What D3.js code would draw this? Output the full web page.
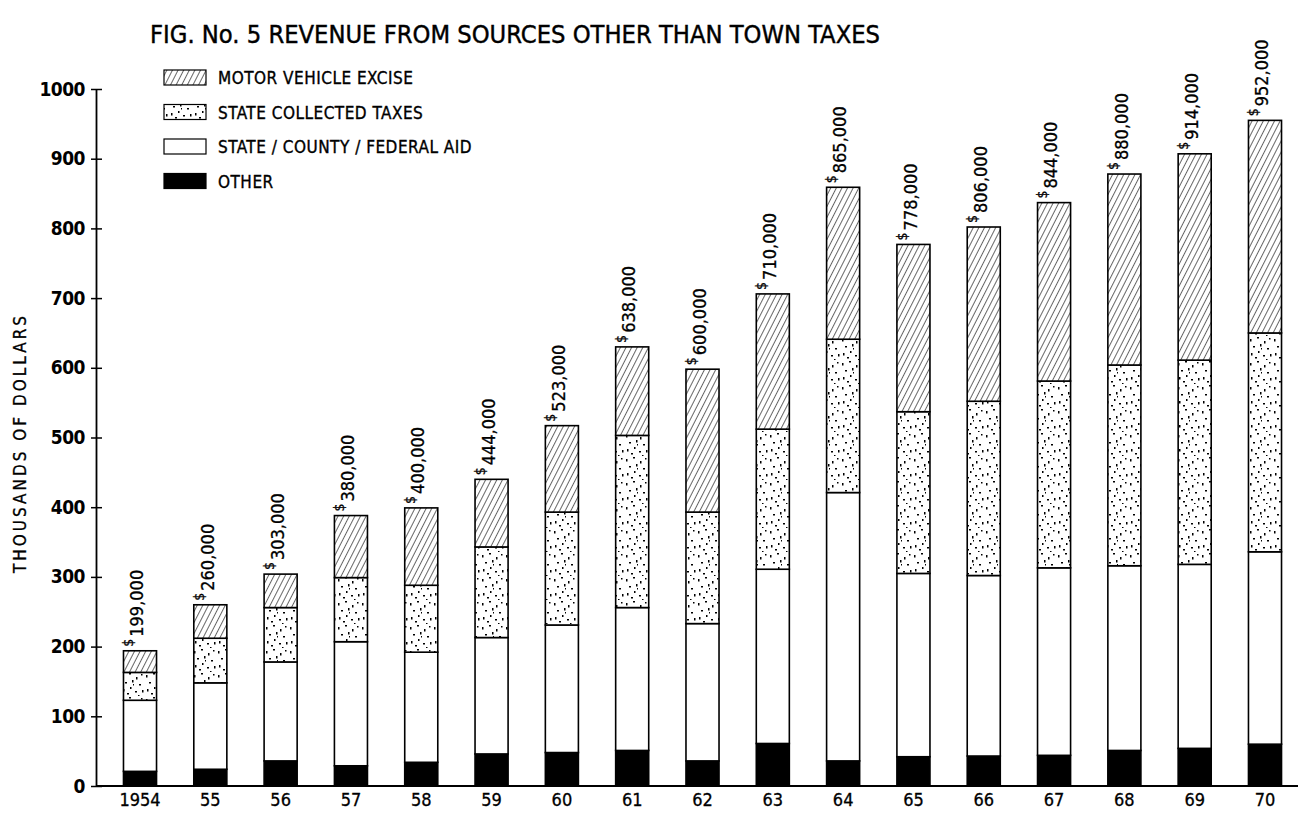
<!DOCTYPE html>
<html>
<head>
<meta charset="utf-8">
<script src="https://cdn.jsdelivr.net/npm/d3@7"></script>
<style>
  html, body { margin: 0; padding: 0; background: #fff; }
  svg { display: block; }
  text { font-family: "Liberation Sans Narrow", "DejaVu Sans Condensed", "Liberation Sans", sans-serif; fill: #000; }
</style>
</head>
<body>
<svg id="chart" width="1298" height="818"></svg>
<script>
// ---- data (thousands of dollars) ----
const years = ["1954","55","56","57","58","59","60","61","62","63","64","65","66","67","68","69","70"];
const other = [21, 24, 36, 29, 34, 46, 48, 51, 36, 61, 36, 42, 43, 44, 51, 54, 60];
const aid = [102, 124, 142, 178, 158, 167, 183, 205, 197, 250, 385, 263, 259, 269, 265, 264, 276];
const stateTaxes = [40, 64, 78, 92, 96, 130, 162, 247, 160, 201, 220, 232, 250, 268, 288, 293, 314];
const motorExcise = [31, 48, 48, 89, 111, 97, 124, 127, 205, 194, 218, 240, 250, 256, 274, 296, 305];
const totalLabels = ["199,000","260,000","303,000","380,000","400,000","444,000","523,000","638,000","600,000","710,000","865,000","778,000","806,000","844,000","880,000","914,000","952,000"];
const yTicks = [0, 100, 200, 300, 400, 500, 600, 700, 800, 900, 1000];
const seriesKeys = ["other", "aid", "stateTaxes", "motorExcise"];
const legendLabels = [
  {key: "motorExcise", label: "MOTOR VEHICLE EXCISE"},
  {key: "stateTaxes", label: "STATE COLLECTED TAXES"},
  {key: "aid", label: "STATE / COUNTY / FEDERAL AID"},
  {key: "other", label: "OTHER"}
];
const titleText = "FIG. No. 5 REVENUE FROM SOURCES OTHER THAN TOWN TAXES";
const yTitle = "THOUSANDS OF DOLLARS";

const rows = years.map((yr, i) => ({
  year: yr, other: other[i], aid: aid[i], stateTaxes: stateTaxes[i], motorExcise: motorExcise[i]
}));

const svg = d3.select("#chart");

// ---- patterns ----
const defs = svg.append("defs");
const hatch = defs.append("pattern").attr("id", "hatch").attr("patternUnits", "userSpaceOnUse")
  .attr("width", 5).attr("height", 5).attr("patternTransform", "rotate(27)");
hatch.append("rect").attr("width", 5).attr("height", 5).attr("fill", "#fff");
hatch.append("line").attr("x1", 0).attr("y1", 0).attr("x2", 0).attr("y2", 5)
  .attr("stroke", "#000").attr("stroke-width", 1.2);

const stip = defs.append("pattern").attr("id", "stipple").attr("patternUnits", "userSpaceOnUse")
  .attr("width", 24).attr("height", 24);
stip.append("rect").attr("width", 24).attr("height", 24).attr("fill", "#fff");
const dots = [[2,3,1.5,2.5],[9,1,2,1.5],[16,5,1.5,2.5],[21,2,1.5,1.5],[5,10,2,1.5],[12,8,1.5,2.5],[19,12,2,1.5],
              [3,17,1.5,2.5],[10,15,1.5,2],[15,19,2,1.5],[22,18,1.5,2.5],[7,21,2,1.5],[18,23,1.5,1],[13,12,1,1.5]];
dots.forEach(d => stip.append("rect").attr("x", d[0]).attr("y", d[1]).attr("width", d[2]).attr("height", d[3]).attr("fill", "#000"));

const fills = {
  motorExcise: "url(#hatch)",
  stateTaxes: "url(#stipple)",
  aid: "#fff",
  other: "#000"
};

// ---- scales ----
const x = d3.scaleBand().domain(years).range([104.85, 1300.15]).paddingInner(0.53).paddingOuter(0.265);
const y = d3.scaleLinear().domain([0, 1000]).range([786, 89]);

// ---- title ----
svg.append("text").attr("x", 150).attr("y", 43)
  .attr("font-size", 24).attr("textLength", 730).attr("lengthAdjust", "spacingAndGlyphs")
  .attr("stroke", "#000").attr("stroke-width", 0.4)
  .text(titleText);

// ---- legend ----
const lg = svg.append("g");
legendLabels.forEach((d, i) => {
  const yy = 70 + i * 34.5;
  lg.append("rect").attr("x", 164).attr("y", yy).attr("width", 42).attr("height", 15)
    .attr("fill", fills[d.key]).attr("stroke", "#000").attr("stroke-width", 1.2);
  lg.append("text").attr("x", 218).attr("y", yy + 14).attr("font-size", 17)
    .attr("stroke", "#000").attr("stroke-width", 0.35)
    .attr("letter-spacing", "0.5px").text(d.label);
});

// ---- bars ----
const stacked = d3.stack().keys(seriesKeys)(rows);
const barG = svg.append("g");
stacked.forEach(layer => {
  barG.append("g").selectAll("rect").data(layer).join("rect")
    .attr("x", d => x(d.data.year))
    .attr("y", d => y(d[1]))
    .attr("width", x.bandwidth())
    .attr("height", d => y(d[0]) - y(d[1]))
    .attr("fill", fills[layer.key])
    .attr("stroke", "#000").attr("stroke-width", 1.6);
});

// ---- total labels ----
const lab = svg.append("g");
rows.forEach((r, i) => {
  const tot = r.other + r.aid + r.stateTaxes + r.motorExcise;
  const cx = x(r.year) + x.bandwidth() / 2;
  const t = lab.append("text")
    .attr("transform", `translate(${cx + 1},${y(tot) - 4}) rotate(-90)`)
    .attr("font-family", "DejaVu Sans, sans-serif").attr("font-size", 18)
    .attr("stroke", "#000").attr("stroke-width", 0.3)
    .attr("dy", "0.35em");
  t.append("tspan").attr("font-size", 14).attr("dy", "-0.55em").text("$");
  t.append("tspan").attr("dy", "0.55em").attr("dx", "2").text(totalLabels[i]);
});

// ---- y axis ----
const yAxis = svg.append("g").attr("transform", "translate(96,0)")
  .call(d3.axisLeft(y).tickValues(yTicks).tickSizeInner(5).tickSizeOuter(0).tickPadding(6).tickFormat(d3.format("d")));
yAxis.select(".domain").attr("stroke", "#000").attr("stroke-width", 1.8);
yAxis.selectAll(".tick line").attr("stroke", "#000").attr("stroke-width", 1.5).attr("x2", -5);
yAxis.selectAll(".tick").append("line").attr("x1", 0).attr("x2", 6).attr("stroke", "#000").attr("stroke-width", 1.5);
yAxis.selectAll(".tick text").attr("font-size", 19).attr("font-weight", "bold")
  .attr("font-family", "DejaVu Sans, sans-serif").attr("letter-spacing", "-0.5px");

// ---- x axis ----
const xAxis = svg.append("g").attr("transform", "translate(0,786)")
  .call(d3.axisBottom(x).tickSize(0).tickPadding(7));
xAxis.select(".domain").remove();
xAxis.selectAll(".tick text").attr("font-size", 18).attr("font-family", "DejaVu Sans, sans-serif")
  .attr("stroke", "#000").attr("stroke-width", 0.3);
svg.append("line").attr("x1", 96).attr("x2", 1298).attr("y1", 786).attr("y2", 786)
  .attr("stroke", "#000").attr("stroke-width", 1.8);

// ---- y title ----
svg.append("text").attr("transform", "translate(26,443) rotate(-90)")
  .attr("text-anchor", "middle").attr("font-size", 17).attr("letter-spacing", "3px")
  .attr("stroke", "#000").attr("stroke-width", 0.3)
  .text(yTitle);
</script>
</body>
</html>
